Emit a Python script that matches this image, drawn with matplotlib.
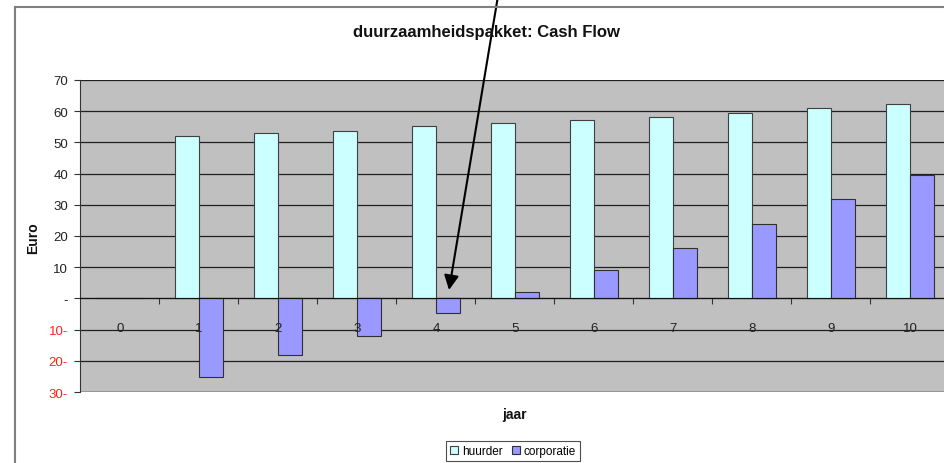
import matplotlib
matplotlib.use("Agg")
import matplotlib.pyplot as plt
import numpy as np
from matplotlib.lines import Line2D

plt.rcParams['font.family'] = ['Liberation Sans', 'DejaVu Sans']

years = [0, 1, 2, 3, 4, 5, 6, 7, 8, 9, 10]
huurder = [0, 52.0, 52.9, 53.8, 55.1, 56.1, 57.1, 58.3, 59.3, 60.9, 62.2]
corporatie = [0, -25.3, -18.3, -11.9, -4.8, 1.9, 9.0, 16.3, 24.0, 31.7, 39.4]
yticks = [70, 60, 50, 40, 30, 20, 10, 0, -10, -20, -30]
ytick_labels = ["70", "60", "50", "40", "30", "20", "10", "-", "10-", "20-", "30-"]
title = "duurzaamheidspakket: Cash Flow"

W, H = 945, 464
fig = plt.figure(figsize=(W / 100, H / 100), dpi=100)
fig.patch.set_facecolor('white')

# chart-area border lines (top and left)
fig.add_artist(Line2D([15 / W, 15 / W], [0, 1 - 8 / H], transform=fig.transFigure,
                      color='#808080', lw=1.5))
fig.add_artist(Line2D([15 / W, 1], [1 - 8 / H, 1 - 8 / H], transform=fig.transFigure,
                      color='#808080', lw=1.5))

left = 80.5 / W
right = 949.5 / W
bottom = (H - 393) / H
top = (H - 81) / H
ax = fig.add_axes([left, bottom, right - left, top - bottom])
ax.set_facecolor('#C0C0C0')

x = np.arange(len(years))
bw = 0.3
ax.bar(x - bw / 2, huurder, bw, color='#CCFFFF', edgecolor='#404040', lw=0.8,
       label='huurder', zorder=2)
ax.bar(x + bw / 2, corporatie, bw, color='#9999FF', edgecolor='#303030', lw=0.8,
       label='corporatie', zorder=2)

ax.set_xlim(-0.5, 10.5)
ax.set_ylim(-30, 70)

for v in yticks:
    if v != -30:
        ax.axhline(v, color='#202020', lw=0.9, zorder=1)
ax.axhline(-30, color='#909090', lw=1.2, zorder=1)

ax.set_yticks(yticks)
ax.set_yticklabels(ytick_labels)
for lbl, v in zip(ax.get_yticklabels(), yticks):
    lbl.set_color('#FF2020' if v < 0 else '#222222')
ax.tick_params(axis='y', length=4, width=0.8, labelsize=9.5, pad=5, color='#333333')

ax.spines['top'].set_visible(False)
ax.spines['right'].set_visible(False)
ax.spines['left'].set_color('#333333')
ax.spines['bottom'].set_position(('data', 0))
ax.spines['bottom'].set_color('#111111')
ax.spines['bottom'].set_zorder(4)

ax.set_xticks(x)
ax.set_xticklabels([str(y) for y in years])
ax.set_xticks(x[:-1] + 0.5, minor=True)
ax.tick_params(axis='x', which='major', length=0, labelsize=9.5, pad=17, colors='#222222')
ax.tick_params(axis='x', which='minor', length=4, width=0.8, color='#333333')
ax.xaxis.set_zorder(3)
ax.yaxis.set_zorder(3)

fig.text(486 / W, 1 - 33 / H, title, ha='center', va='center',
         fontsize=12, fontweight='bold', color='#111111')
fig.text(33 / W, 1 - 238 / H, 'Euro', rotation=90, ha='center', va='center',
         fontsize=10, fontweight='bold', color='#111111')
fig.text(515 / W, 1 - 415 / H, 'jaar', ha='center', va='center',
         fontsize=10, fontweight='bold', color='#111111')

leg = fig.legend(loc='center', bbox_to_anchor=(513 / W, 1 - 452 / H), ncol=2,
                 fontsize=8.5, handlelength=0.7, handleheight=0.7, handletextpad=0.3,
                 columnspacing=0.8, borderpad=0.3, fancybox=False, frameon=True)
leg.get_frame().set_edgecolor('#222222')
leg.get_frame().set_linewidth(0.8)

ax.annotate('', xy=(449 / W, 1 - 291 / H), xycoords='figure fraction',
            xytext=(498 / W, 1 + 3 / H), textcoords='figure fraction',
            arrowprops=dict(arrowstyle='-|>', color='black', lw=1.5,
                            mutation_scale=22, shrinkA=0, shrinkB=0),
            annotation_clip=False, zorder=10)

fig.savefig('out.png', dpi=100)
